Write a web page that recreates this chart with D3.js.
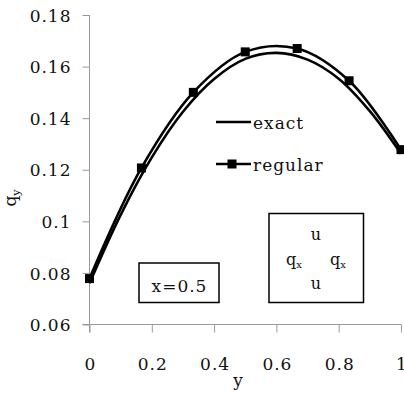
<!DOCTYPE html>
<html>
<head>
<meta charset="utf-8">
<script src="https://cdn.jsdelivr.net/npm/d3@7"></script>
<style>
  html, body { margin: 0; padding: 0; background: #fff; }
  svg text { font-family: "DejaVu Serif", serif !important; fill: #111; }
</style>
</head>
<body>
<svg id="chart" width="404" height="394"></svg>
<script>
// q_y along the line x = 0.5
const exactY = [0, 0.1, 0.2, 0.3, 0.4, 0.5, 0.6, 0.7, 0.8, 0.9, 1];
const exactQ = [0.0760, 0.1025, 0.1248, 0.1425, 0.1552, 0.1630, 0.1653, 0.1627, 0.1553, 0.1427, 0.1262];

const regularY = [0, 1/6, 1/3, 0.5, 2/3, 5/6, 1];
const regularQ = [0.0778, 0.1207, 0.1500, 0.1657, 0.1670, 0.1545, 0.1278];

const xTicks = [0, 0.2, 0.4, 0.6, 0.8, 1];
const xTickLabels = ["0", "0.2", "0.4", "0.6", "0.8", "1"];
const yTicks = [0.06, 0.08, 0.1, 0.12, 0.14, 0.16, 0.18];
const yTickLabels = ["0.06", "0.08", "0.1", "0.12", "0.14", "0.16", "0.18"];

const svg = d3.select("#chart");
const x = d3.scaleLinear().domain([0, 1]).range([89.5, 401]);
const y = d3.scaleLinear().domain([0.06, 0.18]).range([324.5, 15]);

const FS = 17;        // label font size
const LS = 1;         // letter spacing of the labels
const axisColor = "#9a9a9a";

// y axis
const gy = svg.append("g").attr("transform", `translate(${x(0)},0)`)
  .call(d3.axisLeft(y).tickValues(yTicks).tickSize(7).tickSizeOuter(0)
    .tickFormat((d, i) => yTickLabels[i]));
gy.select(".domain").attr("stroke", axisColor).attr("d", `M0,${y(0.18)}V${y(0.06) + 8}`);
gy.selectAll(".tick line").attr("stroke", axisColor);
gy.selectAll(".tick text").attr("x", -18).attr("dy", "0.36em")
  .attr("font-size", FS).attr("letter-spacing", LS);

// x axis
const gx = svg.append("g").attr("transform", `translate(0,${y(0.06)})`)
  .call(d3.axisBottom(x).tickValues(xTicks).tickSize(8).tickSizeOuter(0)
    .tickFormat((d, i) => xTickLabels[i]));
gx.select(".domain").attr("stroke", axisColor).attr("d", `M${x(0) - 7},0H${x(1)}`);
gx.selectAll(".tick line").attr("stroke", axisColor);
gx.selectAll(".tick text").attr("y", 0).attr("dy", 45).attr("dx", LS / 2)
  .attr("font-size", FS).attr("letter-spacing", LS);

// axis titles
svg.append("text").attr("x", 238).attr("y", 386).attr("text-anchor", "middle")
  .attr("font-size", FS).text("y");
const yt = svg.append("text").attr("transform", "translate(16,198) rotate(-90)")
  .attr("text-anchor", "middle").attr("font-size", FS);
yt.append("tspan").text("q");
yt.append("tspan").attr("font-size", 11).attr("dy", 4).text("y");

// curves
const line = d3.line().curve(d3.curveCatmullRom.alpha(0.5));
const plot = svg.append("g");
plot.append("path")
  .attr("d", line(exactY.map((v, i) => [x(v), y(exactQ[i])])))
  .attr("fill", "none").attr("stroke", "#000").attr("stroke-width", 2.6);
plot.append("path")
  .attr("d", line(regularY.map((v, i) => [x(v), y(regularQ[i])])))
  .attr("fill", "none").attr("stroke", "#000").attr("stroke-width", 2.6);
const M = 9;
plot.selectAll("rect.mk").data(regularY).join("rect").attr("class", "mk")
  .attr("x", d => x(d) - M / 2).attr("y", (d, i) => y(regularQ[i]) - M / 2)
  .attr("width", M).attr("height", M).attr("fill", "#000");

// legend
const lg = svg.append("g");
lg.append("line").attr("x1", 216).attr("x2", 251).attr("y1", 122).attr("y2", 122)
  .attr("stroke", "#000").attr("stroke-width", 2.6);
lg.append("text").attr("x", 253).attr("y", 129).attr("font-size", FS)
  .attr("letter-spacing", LS).text("exact");
lg.append("line").attr("x1", 216).attr("x2", 251).attr("y1", 164).attr("y2", 164)
  .attr("stroke", "#000").attr("stroke-width", 2.6);
lg.append("rect").attr("x", 232 - M / 2).attr("y", 164 - M / 2)
  .attr("width", M).attr("height", M).attr("fill", "#000");
lg.append("text").attr("x", 253).attr("y", 171).attr("font-size", FS)
  .attr("letter-spacing", LS).text("regular");

// annotation boxes
svg.append("rect").attr("x", 139).attr("y", 263).attr("width", 80).attr("height", 39.5)
  .attr("fill", "#fff").attr("stroke", "#000").attr("stroke-width", 1.5);
svg.append("text").attr("x", 179 + LS / 2).attr("y", 292).attr("text-anchor", "middle")
  .attr("font-size", FS).attr("letter-spacing", LS).text("x=0.5");

svg.append("rect").attr("x", 269).attr("y", 213.5).attr("width", 94.5).attr("height", 89)
  .attr("fill", "#fff").attr("stroke", "#000").attr("stroke-width", 1.5);
const stencil = svg.append("g").attr("font-size", 16);
stencil.append("text").attr("x", 316).attr("y", 240).attr("text-anchor", "middle").text("u");
stencil.append("text").attr("x", 316).attr("y", 289).attr("text-anchor", "middle").text("u");
[286, 330].forEach(px => {
  const t = stencil.append("text").attr("x", px).attr("y", 265);
  t.append("tspan").text("q");
  t.append("tspan").attr("font-size", 10).attr("dy", 3).text("x");
});
</script>
</body>
</html>
